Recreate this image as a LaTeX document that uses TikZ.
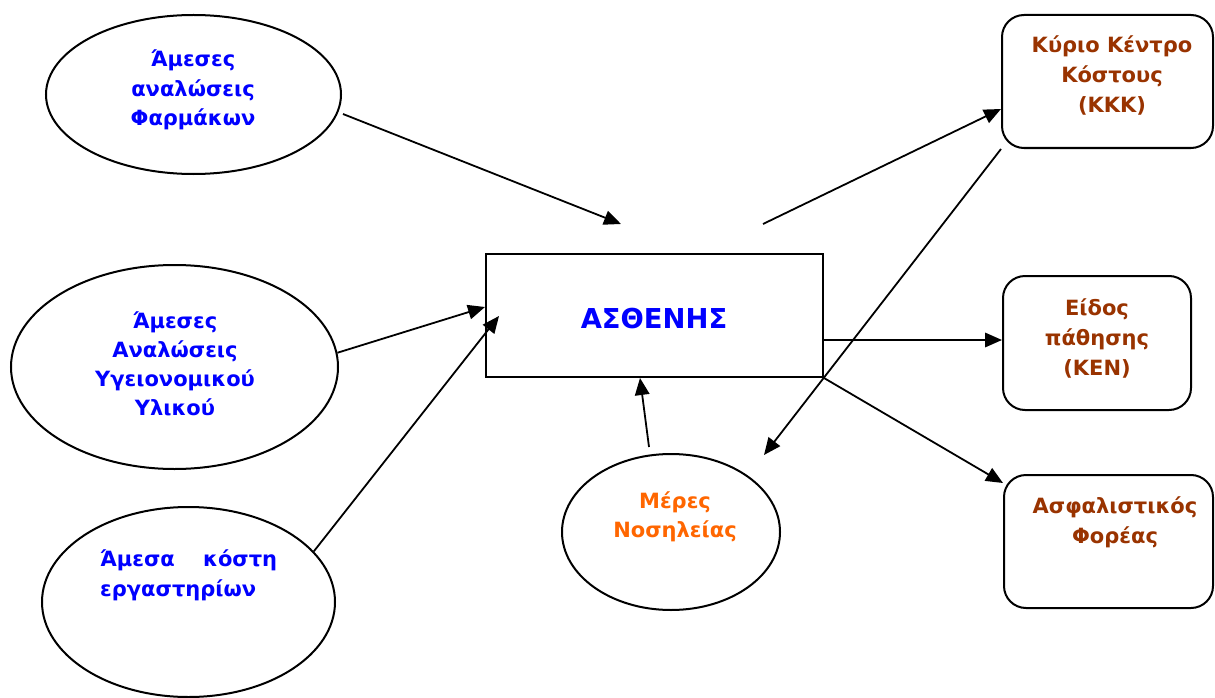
\documentclass[tikz,border=0pt]{standalone}
\usepackage{fontspec}
\setmainfont{DejaVu Sans}
\usetikzlibrary{shapes.geometric,arrows.meta}
\definecolor{txtblue}{RGB}{0,0,255}
\definecolor{txtbrown}{RGB}{153,51,0}
\definecolor{txtorange}{RGB}{255,102,0}
\begin{document}
\begin{tikzpicture}[x=1pt,y=-1pt,
  oval/.style={draw,ellipse,line width=2pt,inner sep=0pt},
  plainbox/.style={draw,rectangle,line width=2pt,inner sep=0pt},
  card/.style={draw,rectangle,rounded corners=22pt,line width=2pt,inner sep=0pt},
  lbl/.style={font=\bfseries\fontsize{21}{29.5}\selectfont,align=center,anchor=base,inner sep=0pt},
  arr/.style={line width=1.8pt,-{Triangle[length=17pt,width=14.5pt]}}]
\useasboundingbox (0,0) rectangle (1215,698);

% cost sources (left)
\node[oval,minimum width=295pt,minimum height=159pt] (e1) at (193.5,94.5) {};
\node[oval,minimum width=327pt,minimum height=204pt] (e2) at (174.5,367) {};
\node[oval,minimum width=293pt,minimum height=190pt] (e3) at (188.5,602) {};
\node[oval,minimum width=218pt,minimum height=156pt] (mer) at (671,532) {};

% patient
\node[plainbox,minimum width=337pt,minimum height=123pt] (box) at (654.5,315.5) {};

% cost allocation targets (right)
\node[card,minimum width=211pt,minimum height=133pt] (kkk) at (1107.5,81.5) {};
\node[card,minimum width=188pt,minimum height=134pt] (ken) at (1097,343) {};
\node[card,minimum width=209pt,minimum height=133pt] (asf) at (1108.5,541.5) {};

% labels (anchored at the baseline of the last line)
\node[lbl,text=txtblue] (t1) at (193,126) {Άμεσες\\αναλώσεις\\Φαρμάκων};
\node[lbl,text=txtblue,font=\bfseries\fontsize{21}{29}\selectfont] (t2) at (175,415) {Άμεσες\\Αναλώσεις\\Υγειονομικού\\Υλικού};
\node[lbl,text=txtblue,align=left,anchor=base west,font=\bfseries\fontsize{21}{30}\selectfont] (t3) at (100,596) {\makebox[177pt][s]{Άμεσα κόστη}\\εργαστηρίων};
\node[lbl,text=txtorange,font=\bfseries\fontsize{21}{28.5}\selectfont] (t4) at (675,537) {Μέρες\\Νοσηλείας};
\node[lbl,text=txtblue,font=\bfseries\fontsize{27.4}{30}\selectfont] (t5) at (654,328) {ΑΣΘΕΝΗΣ};
\node[lbl,text=txtbrown,font=\bfseries\fontsize{21}{30}\selectfont] (t6) at (1112,113) {Κύριο Κέντρο\\Κόστους\\(ΚΚΚ)};
\node[lbl,text=txtbrown,font=\bfseries\fontsize{21}{30}\selectfont] (t7) at (1097,375) {Είδος\\πάθησης\\(ΚΕΝ)};
\node[lbl,text=txtbrown,font=\bfseries\fontsize{21}{30}\selectfont] (t8) at (1115,543) {Ασφαλιστικός\\Φορέας};

% free connector ends
\coordinate (a1start) at (343,114);
\coordinate (a1end) at (621,224);
\coordinate (a3end) at (499,316);
\coordinate (a5start) at (763,224);
\coordinate (a6end) at (764,455);

% connectors
\draw[arr] (a1start) -- (a1end);
\draw[arr] (e2.5) -- ([yshift=8.5pt]box.west);
\draw[arr] (e3.22) -- (a3end);
\draw[arr] ([xshift=-22pt,yshift=6pt]mer.north) -- ([xshift=-14.5pt]box.south);
\draw[arr] (a5start) -- ([yshift=-27.5pt]kkk.west);
\draw[arr] (kkk.south west) -- (a6end);
\draw[arr] ([yshift=-24.5pt]box.east) -- ([yshift=-24.5pt]box.east -| ken.west);
\draw[arr] (box.south east) -- ([yshift=-9pt]asf.north west);
\end{tikzpicture}
\end{document}
